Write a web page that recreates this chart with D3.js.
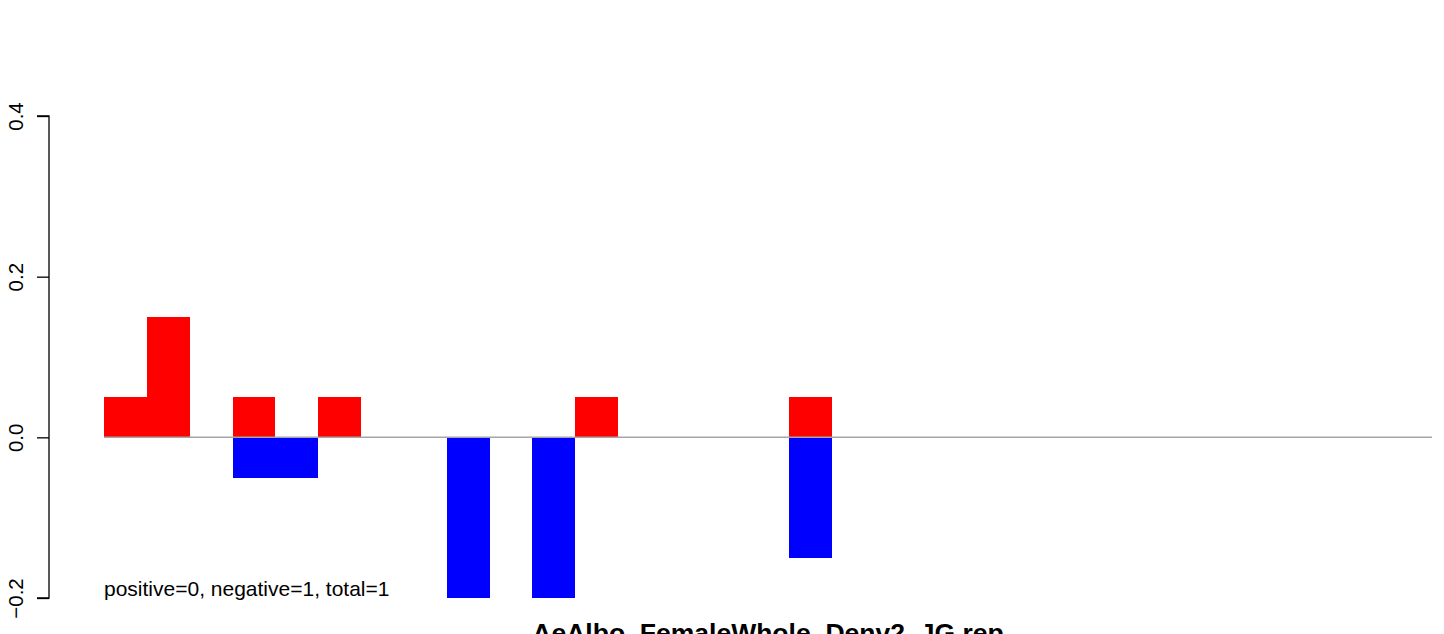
<!DOCTYPE html>
<html>
<head>
<meta charset="utf-8">
<script src="https://cdn.jsdelivr.net/npm/d3@7"></script>
<style>
html,body{margin:0;padding:0;background:#fff;}
svg{display:block;}
text{font-family:"Liberation Sans",Arial,sans-serif;}
</style>
</head>
<body>
<svg id="chart" width="1444" height="634"></svg>
<script>
// Data
const categories = d3.range(1, 32).map(String);
const positiveValues = [0.05,0.15,0,0.05,0,0.05,0,0,0,0,0,0.05,0,0,0,0,0.05,0,0,0,0,0,0,0,0,0,0,0,0,0,0];
const negativeValues = [0,0,0,-0.05,-0.05,0,0,0,-0.2,0,-0.2,0,0,0,0,0,-0.15,0,0,0,0,0,0,0,0,0,0,0,0,0,0];
const yTicks = [-0.2, 0.0, 0.2, 0.4];
const yTickLabels = ["\u22120.2", "0.0", "0.2", "0.4"];
const annotation = "positive=0, negative=1, total=1";
const title = "AeAlbo_FemaleWhole_Denv2_JG.rep";

const svg = d3.select("#chart");
const x = d3.scaleBand().domain(categories).range([104, 1432]).padding(0);
const y = d3.scaleLinear().domain([-0.2, 0.4]).range([598, 116]);

// positive bars
svg.append("g").selectAll("rect").data(categories).join("rect")
  .attr("x", d => x(d))
  .attr("width", x.bandwidth())
  .attr("y", (d, i) => y(Math.max(0, positiveValues[i])))
  .attr("height", (d, i) => Math.abs(y(positiveValues[i]) - y(0)))
  .attr("fill", "#ff0000")
  .attr("shape-rendering", "crispEdges");

// negative bars
svg.append("g").selectAll("rect").data(categories).join("rect")
  .attr("x", d => x(d))
  .attr("width", x.bandwidth())
  .attr("y", y(0))
  .attr("height", (d, i) => Math.abs(y(negativeValues[i]) - y(0)))
  .attr("fill", "#0000ff")
  .attr("shape-rendering", "crispEdges");

// zero line
svg.append("line")
  .attr("x1", x.range()[0]).attr("x2", x.range()[1])
  .attr("y1", y(0)).attr("y2", y(0))
  .attr("stroke", "#a6a6a6").attr("stroke-width", 1.5);

// y axis
const axis = d3.axisLeft(y).tickValues(yTicks).tickSize(12)
  .tickFormat((d, i) => yTickLabels[i]);
const ag = svg.append("g").attr("transform", "translate(49,0)").call(axis);
ag.select(".domain").attr("stroke", "#000").attr("stroke-width", 1.3)
  .attr("d", `M-12,${y(0.4)}H0V${y(-0.2)}H-12`);
ag.selectAll(".tick line").attr("stroke", "#000").attr("stroke-width", 1.3);
ag.selectAll(".tick text")
  .attr("font-size", 20.5)
  .attr("fill", "#000")
  .attr("text-anchor", "middle")
  .attr("x", 0).attr("y", 0).attr("dy", 0)
  .attr("transform", "translate(-26,0) rotate(-90)");

// annotation
svg.append("text")
  .attr("x", 104).attr("y", 596)
  .attr("font-size", 21)
  .attr("fill", "#000")
  .text(annotation);

// title at bottom
svg.append("text")
  .attr("x", (x.range()[0] + x.range()[1]) / 2).attr("y", 642)
  .attr("text-anchor", "middle")
  .attr("font-size", 26.5)
  .attr("font-weight", "bold")
  .attr("fill", "#000")
  .text(title);
</script>
</body>
</html>
